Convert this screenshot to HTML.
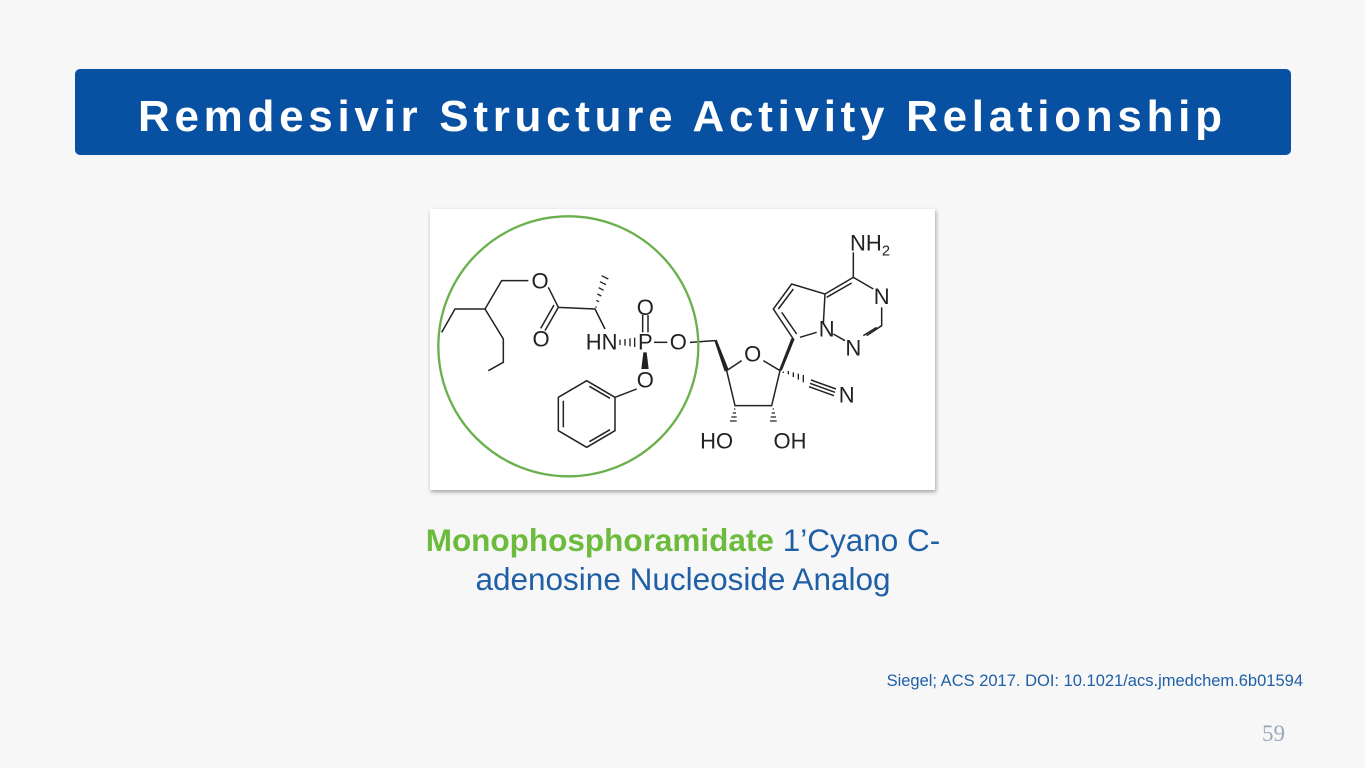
<!DOCTYPE html>
<html><head><meta charset="utf-8"><style>
html,body{margin:0;padding:0;}
body{width:1365px;height:768px;background:#f7f7f7;position:relative;overflow:hidden;font-family:"Liberation Sans",sans-serif;}
.bar{position:absolute;left:75px;top:69px;width:1216px;height:86px;background:#0750a2;border-radius:5px;}
.img{position:absolute;left:430px;top:209px;width:505px;height:281px;background:#fff;box-shadow:1px 2px 4px rgba(0,0,0,0.35);}
.cap{position:absolute;left:333px;top:521px;width:700px;text-align:center;font-size:31.5px;line-height:39px;color:#1f5fa6;}
.cap b{color:#6cbb3c;}
.cite{position:absolute;right:62px;top:672px;font-size:16.5px;color:#1f5fa6;}
.pn{position:absolute;left:1262px;top:721px;font-size:23px;color:#9aa7bd;font-family:"Liberation Serif",serif;}
</style></head><body>
<div class="bar"></div>
<svg style="position:absolute;left:0;top:0" width="1365" height="768">
<text x="138" y="131" textLength="1084" lengthAdjust="spacing" font-family="Liberation Sans,sans-serif" font-weight="bold" font-size="44" fill="#fff">Remdesivir Structure Activity Relationship</text>
</svg>
<div class="img">
<svg width="505" height="281" viewBox="0 0 1515 843">
<g stroke="#222" stroke-width="4.5" fill="none">
<polyline points="35,370 75,300 165,300 215,215 295,215"/>
<polyline points="165,300 220,390 220,460 175,485"/>
<line x1="355" y1="235" x2="385" y2="295"/>
<polyline points="385,295 495,300 525,360"/>
<line x1="385" y1="295" x2="345" y2="365"/>
<line x1="372" y1="288" x2="332" y2="358"/>
<line x1="638" y1="318" x2="638" y2="370"/>
<line x1="654" y1="318" x2="654" y2="370"/>
<line x1="672" y1="400" x2="712" y2="400"/>
<line x1="780" y1="400" x2="855" y2="395"/>
<line x1="620" y1="540" x2="555" y2="565"/>
<polygon points="470,515 555,565 555,665 470,715 385,665 385,565"/>
<line x1="400" y1="575" x2="400" y2="655"/>
<line x1="478" y1="532" x2="540" y2="568"/>
<line x1="478" y1="698" x2="540" y2="662"/>
<polyline points="890,485 935,455"/>
<polyline points="1000,455 1050,485 1025,590 915,590 890,485"/>
<polyline points="1090,390 1030,300 1085,225 1185,255 1180,345"/>
<line x1="1045" y1="300" x2="1090" y2="240"/>
<line x1="1100" y1="375" x2="1055" y2="310"/>
<line x1="1110" y1="385" x2="1160" y2="370"/>
<polyline points="1185,255 1270,205 1330,240"/>
<line x1="1270" y1="205" x2="1270" y2="130"/>
<line x1="1190" y1="265" x2="1265" y2="222"/>
<polyline points="1355,295 1355,350 1310,380"/>
<line x1="1340" y1="355" x2="1300" y2="380"/>
<line x1="1210" y1="375" x2="1245" y2="395"/>
<line x1="1140" y1="523" x2="1215" y2="550"/>
<line x1="1143" y1="513" x2="1218" y2="540"/>
<line x1="1137" y1="533" x2="1212" y2="560"/>
</g>
<g fill="#222">
<polygon points="640,430 650,430 656,480 634,480"/>
<polygon points="853,395 860,392 896,482 884,488"/>
<polygon points="1046,486 1056,484 1094,390 1084,388"/>
</g>
<g stroke="#222" stroke-width="4">
<path d="M500,295 l-4,-2 M507,278 l-8,-4 M514,261 l-12,-6 M521,244 l-15,-8 M528,227 l-18,-9 M535,210 l-20,-10"/>
<path d="M570,392 v16 M585,390 v20 M600,388 v24 M614,386 v28"/>
<path d="M1060,488 v4 M1075,486 v10 M1090,490 v14 M1105,494 v18 M1120,498 v22"/>
<path d="M912,600 h4 M908,612 h10 M904,624 h16 M900,636 h20"/>
<path d="M1028,600 h4 M1025,612 h10 M1022,624 h16 M1020,636 h20"/>
</g>
<circle cx="415" cy="412" r="390" fill="none" stroke="#6ab04c" stroke-width="7"/>
<g font-family="Liberation Sans,sans-serif" font-size="66" fill="#222" text-anchor="middle">
<text x="330" y="238">O</text>
<text x="333" y="413">O</text>
<text x="515" y="422">HN</text>
<text x="646" y="422">P</text>
<text x="646" y="318">O</text>
<text x="745" y="422">O</text>
<text x="646" y="535">O</text>
<text x="968" y="458">O</text>
<text x="1190" y="383">N</text>
<text x="1270" y="440">N</text>
<text x="1355" y="285">N</text>
<text x="1320" y="125">NH<tspan font-size="44" dy="14">2</tspan></text>
<text x="1250" y="580">N</text>
<text x="860" y="718">HO</text>
<text x="1080" y="718">OH</text>
</g>
</svg>
</div>
<div class="cap"><b>Monophosphoramidate</b> 1’Cyano C-<br>adenosine Nucleoside Analog</div>
<div class="cite">Siegel; ACS 2017. DOI: 10.1021/acs.jmedchem.6b01594</div>
<div class="pn">59</div>
</body></html>
